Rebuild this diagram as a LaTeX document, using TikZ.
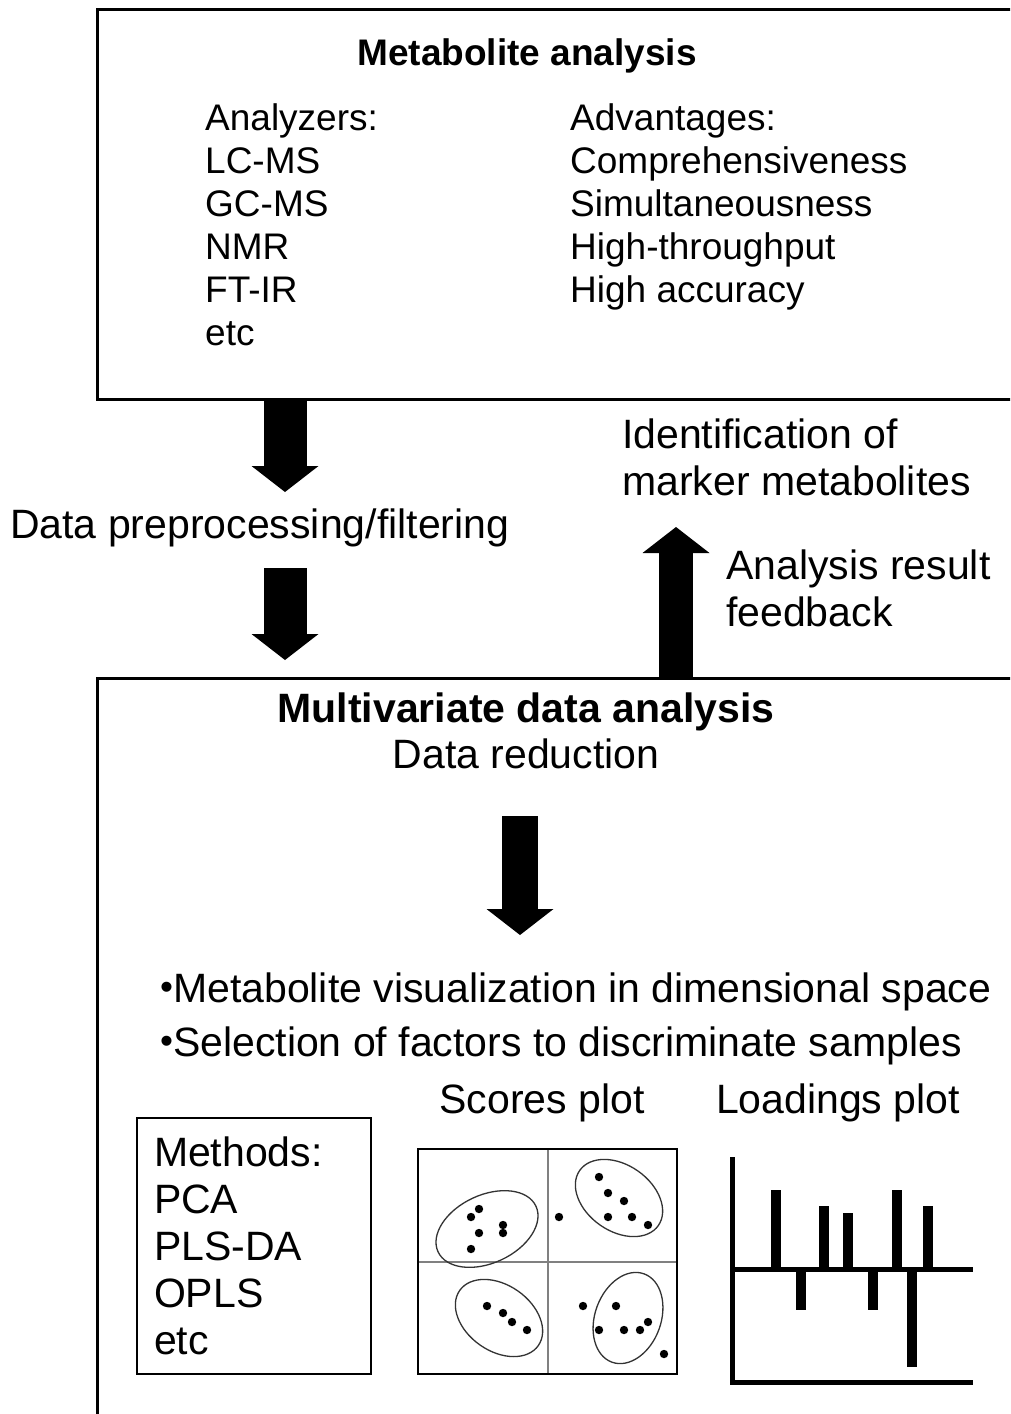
\documentclass[tikz,border=0pt]{standalone}
\usepackage{fontspec}
\setmainfont{Liberation Sans}
\usepackage{tikz}
\usetikzlibrary{arrows.meta}
\tikzset{>=latex}
\newcommand{\smallbullet}{{\fontsize{37}{37}\selectfont\raisebox{3pt}{•}}}

\begin{document}
\begin{tikzpicture}[x=1pt, y=-1pt]
\tikzset{boxline/.style={draw, line width=2.5pt, inner sep=0pt},
         smalltxt/.style={font=\fontsize{37}{43}\selectfont, inner sep=0pt},
         bigtxt/.style={font=\fontsize{41}{47}\selectfont, inner sep=0pt},
         bigbold/.style={font=\fontsize{41}{47}\selectfont\bfseries, inner sep=0pt},
         blockarrow/.style={line width=#1, -{Triangle[width=67pt, length=26pt, line width=0pt]}}}
    \clip (0,0) rectangle (1010,1414);

    % the two frames, both run off the page
    \node[boxline, anchor=north west, minimum width=960, minimum height=390] (Metab) at (96,8) {};
    \node[boxline, anchor=north west, minimum width=960, minimum height=800] (Multi) at (96,677) {};

    \node[smalltxt, anchor=base] (MetabTitle) at (527,65) {\bfseries Metabolite analysis};
    \node[smalltxt, anchor=north west, align=left] (Analyzers) at (205,103)
        {Analyzers:\\LC-MS\\GC-MS\\NMR\\FT-IR\\etc};
    \node[smalltxt, anchor=north west, align=left] (Advant) at (570,103)
        {Advantages:\\Comprehensiveness\\Simultaneousness\\High-throughput\\High accuracy};
% % % % % % % % % % % % % % % % % % %
    \node[bigtxt, anchor=base west] (Prep) at (10,538) {Data preprocessing/filtering};
    \node[bigtxt, anchor=north west, align=left] (Ident) at (622,419) {Identification of\\marker metabolites};
    \node[bigtxt, anchor=north west, align=left] (Feedb) at (726,550) {Analysis result\\feedback};

    \coordinate (D1) at (285,492);
    \coordinate (D2s) at (285,568);
    \coordinate (D2) at (285,660);
    \coordinate (U1) at (676,527);

    \draw[blockarrow=43pt] (Metab.south -| D1) -- (D1);
    \draw[blockarrow=43pt] (D2s) -- (D2);
    \draw[blockarrow=34pt] (Multi.north -| U1) -- (U1);
% % % % % % % % % % % % % % % % % % %
    \node[bigbold, anchor=base] (MultiTitle) at (526,722) {Multivariate data analysis};
    \node[bigtxt, anchor=base] (Reduc) at (526,768) {Data reduction};

    \coordinate (R1s) at (520,816);
    \coordinate (R1) at (520,935);
    \draw[blockarrow=36pt] (R1s) -- (R1);

    \node[bigtxt, anchor=base west] (Visual) at (160,1002) {\smallbullet Metabolite visualization in dimensional space};
    \node[bigtxt, anchor=base west] (Select) at (160,1056) {\smallbullet Selection of factors to discriminate samples};

    \node[bigtxt, anchor=base] (Scores) at (542,1113) {Scores plot};
    \node[bigtxt, anchor=base] (Loads) at (838,1113) {Loadings plot};

    \node[boxline, line width=2pt, bigtxt, anchor=north west, align=left, text width=200pt,
          inner xsep=17pt, minimum height=256] (Methods) at (136,1117)
        {Methods:\\PCA\\PLS-DA\\OPLS\\etc};
% % % % % % % % % % % % % % % % % % %
    % scores plot
    \draw[gray, line width=2pt] (548,1149) -- (548,1374);
    \draw[gray, line width=2pt] (418,1262) -- (677,1262);
    \draw[line width=2pt] (418,1149) rectangle (677,1374);

    \draw[black!80, line width=1.3pt, rotate around={25:(487,1229)}] (487,1229) ellipse (54 and 34);
    \draw[black!80, line width=1.3pt, rotate around={-35:(619,1198)}] (619,1198) ellipse (48 and 33);
    \draw[black!80, line width=1.3pt, rotate around={-35:(499,1318)}] (499,1318) ellipse (48 and 33);
    \draw[black!80, line width=1.3pt, rotate around={70:(628,1318)}] (628,1318) ellipse (47 and 33);

    \foreach \p in {(479,1209),(471,1217),(479,1233),(471,1249),(503,1225),(503,1233),
                    (559,1217),(599,1177),(608,1193),(624,1201),(608,1217),(632,1217),(648,1225),
                    (487,1306),(503,1313),(512,1322),(527,1330),
                    (583,1306),(616,1306),(599,1330),(624,1330),(640,1330),(648,1322),(664,1354)}
        \fill \p circle (4.2pt);

    % loadings plot
    \draw[line width=5pt] (732,1157) -- (732,1382) -- (973,1382);
    \draw[line width=5pt] (732,1269) -- (973,1269);
    \foreach \x/\y in {776/1190, 801/1310, 824/1206, 848/1213, 873/1310, 897/1190, 912/1367, 928/1206}
        \fill (\x-5,1269) rectangle (\x+5,\y);
\end{tikzpicture}
\end{document}
